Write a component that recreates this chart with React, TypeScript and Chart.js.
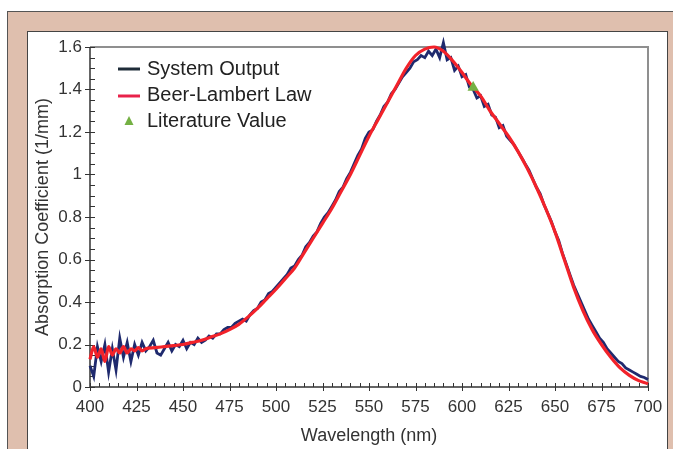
import { useEffect, useRef } from 'react';
import { Chart, registerables } from 'chart.js';

Chart.register(...registerables);

// ---------- data ----------
const xTickLabels = [400, 425, 450, 475, 500, 525, 550, 575, 600, 625, 650, 675, 700];
const yTickLabels = [0, 0.2, 0.4, 0.6, 0.8, 1, 1.2, 1.4, 1.6];

const systemStart = 400;
const systemStep = 2;
const systemValues = [
  0.10, 0.05, 0.19, 0.12, 0.20, 0.07, 0.18, 0.08, 0.23, 0.14, 0.21,
  0.12, 0.20, 0.15, 0.21, 0.17, 0.19, 0.22, 0.16, 0.15, 0.18,
  0.21, 0.17, 0.20, 0.19, 0.22, 0.18, 0.21, 0.20, 0.23, 0.21,
  0.22, 0.24, 0.23, 0.25, 0.25, 0.27, 0.28, 0.28, 0.30, 0.31,
  0.32, 0.31, 0.34, 0.36, 0.37, 0.40, 0.41, 0.44, 0.45, 0.47,
  0.49, 0.51, 0.53, 0.56, 0.57, 0.60, 0.62, 0.66, 0.68, 0.71,
  0.73, 0.77, 0.80, 0.82, 0.85, 0.88, 0.92, 0.94, 0.98, 1.01,
  1.05, 1.09, 1.12, 1.17, 1.20, 1.21, 1.25, 1.28, 1.32, 1.34,
  1.38, 1.40, 1.43, 1.46, 1.48, 1.50, 1.53, 1.54, 1.56, 1.55,
  1.58, 1.56, 1.59, 1.55, 1.62, 1.54, 1.55, 1.49, 1.51, 1.46,
  1.47, 1.41, 1.40, 1.36, 1.37, 1.32, 1.33, 1.28, 1.27, 1.22,
  1.23, 1.18, 1.16, 1.14, 1.11, 1.08, 1.05, 1.02, 0.98, 0.94,
  0.91, 0.86, 0.82, 0.78, 0.73, 0.69, 0.63, 0.58, 0.53, 0.48,
  0.44, 0.40, 0.36, 0.32, 0.29, 0.26, 0.23, 0.21, 0.18, 0.16,
  0.14, 0.12, 0.11, 0.09, 0.08, 0.07, 0.06, 0.05, 0.045, 0.035,
  0.025,
];

const beerWavelengths = [
  400, 402, 404, 406, 408, 410, 412, 414, 416, 418, 420, 422, 424, 426, 428, 430,
  435, 440, 445, 450, 455, 460, 465, 470, 475, 480, 485, 490, 495, 500,
  505, 510, 515, 520, 525, 530, 535, 540, 545, 550, 555, 560, 565, 570,
  575, 580, 585, 590, 595, 600, 605, 610, 615, 620, 625, 630, 635, 640,
  645, 650, 655, 660, 665, 670, 675, 680, 685, 690, 695, 700, 702,
];
const beerValues = [
  0.13, 0.19, 0.14, 0.18, 0.12, 0.19, 0.15, 0.18, 0.16, 0.19, 0.16, 0.18, 0.17, 0.185, 0.17, 0.18,
  0.185, 0.19, 0.195, 0.20, 0.21, 0.22, 0.235, 0.25, 0.27, 0.295, 0.33, 0.37, 0.415, 0.46,
  0.51, 0.56, 0.63, 0.70, 0.77, 0.84, 0.92, 1.00, 1.09, 1.18, 1.26, 1.34, 1.42, 1.50,
  1.56, 1.59, 1.60, 1.58, 1.535, 1.48, 1.42, 1.37, 1.30, 1.24, 1.18, 1.11, 1.03, 0.94,
  0.84, 0.73, 0.60, 0.47, 0.36, 0.27, 0.20, 0.14, 0.09, 0.055, 0.03, 0.015, 0.005,
];

const literatureWavelengths = [606];
const literatureValues = [1.41];

const seriesNames = ['System Output', 'Beer-Lambert Law', 'Literature Value'];

// ---------- styles ----------
const FONT = '"Liberation Sans", Arial, Helvetica, sans-serif';
const NAVY = '#1f2a6e';
const RED = '#f2222a';
const GREEN = '#74b043';
const TEXT = '#333333';

const framePlugin = {
  id: 'frameTicks',
  beforeDatasetsDraw(chart: any) {
    const { ctx, chartArea } = chart;
    const { left, right, top, bottom } = chartArea;
    const xs = chart.scales.x;
    const ys = chart.scales.y;
    ctx.save();
    ctx.strokeStyle = '#8f8f8f';
    ctx.lineWidth = 2;
    ctx.beginPath();
    ctx.moveTo(left, top);
    ctx.lineTo(right, top);
    ctx.lineTo(right, bottom);
    ctx.stroke();
    ctx.strokeStyle = '#333';
    ctx.lineWidth = 1.5;
    ctx.beginPath();
    ctx.moveTo(left, top);
    ctx.lineTo(left, bottom);
    ctx.lineTo(right, bottom);
    ctx.stroke();
    ctx.lineWidth = 1;
    ctx.beginPath();
    for (let v = xs.min; v <= xs.max + 0.001; v += 5) {
      const px = Math.round(xs.getPixelForValue(v)) + 0.5;
      const major = xTickLabels.some((t) => Math.abs(t - v) < 0.01);
      ctx.moveTo(px, bottom - 4);
      ctx.lineTo(px, major ? bottom + 4 : bottom);
    }
    for (let v = ys.min; v <= ys.max + 0.0001; v += 0.05) {
      const py = Math.round(ys.getPixelForValue(v)) + 0.5;
      const major = yTickLabels.some((t) => Math.abs(t - v) < 0.001);
      ctx.moveTo(major ? left - 5 : left, py);
      ctx.lineTo(left + 5, py);
    }
    ctx.stroke();
    ctx.restore();
  },
  afterDraw(chart: any) {
    const { ctx, chartArea } = chart;
    const { left, top } = chartArea;
    ctx.save();
    ctx.font = `20px ${FONT}`;
    ctx.textBaseline = 'middle';
    ctx.textAlign = 'left';
    const rows = [top + 22, top + 48, top + 74];
    ctx.lineWidth = 3;
    ctx.strokeStyle = '#1e2c38';
    ctx.beginPath();
    ctx.moveTo(left + 28, rows[0]);
    ctx.lineTo(left + 50, rows[0]);
    ctx.stroke();
    ctx.strokeStyle = '#e8224a';
    ctx.beginPath();
    ctx.moveTo(left + 28, rows[1] + 1);
    ctx.lineTo(left + 50, rows[1] + 1);
    ctx.stroke();
    ctx.fillStyle = GREEN;
    ctx.beginPath();
    ctx.moveTo(left + 39, rows[2] - 5);
    ctx.lineTo(left + 43.5, rows[2] + 4);
    ctx.lineTo(left + 34.5, rows[2] + 4);
    ctx.closePath();
    ctx.fill();
    ctx.fillStyle = '#222';
    seriesNames.forEach((n, i) => ctx.fillText(n, left + 57, rows[i]));
    ctx.restore();
  },
};

export default function App() {
  const ref = useRef<HTMLCanvasElement | null>(null);

  useEffect(() => {
    if (!ref.current) return;
    const systemData = systemValues.map((v, i) => ({ x: systemStart + i * systemStep, y: v }));
    const beerData = beerWavelengths.map((w, i) => ({ x: w, y: beerValues[i] }));
    const litData = literatureWavelengths.map((w, i) => ({ x: w, y: literatureValues[i] }));

    const chart = new Chart(ref.current, {
      type: 'line',
      data: {
        datasets: [
          {
            label: seriesNames[0],
            data: systemData,
            borderColor: NAVY,
            borderWidth: 2.8,
            pointRadius: 0,
            tension: 0,
            order: 3,
            clip: false,
          },
          {
            label: seriesNames[1],
            data: beerData,
            borderColor: RED,
            borderWidth: 3.2,
            pointRadius: 0,
            cubicInterpolationMode: 'monotone',
            order: 2,
            clip: false,
          },
          {
            label: seriesNames[2],
            data: litData,
            showLine: false,
            pointStyle: 'triangle',
            pointRadius: 6.5,
            backgroundColor: GREEN,
            borderColor: GREEN,
            borderWidth: 0,
            order: 1,
            clip: false,
          },
        ],
      } as any,
      options: {
        responsive: false,
        devicePixelRatio: 1,
        animation: false,
        layout: { padding: { left: 0, top: 47, right: 25, bottom: 0 } },
        plugins: { legend: { display: false }, tooltip: { enabled: false } },
        scales: {
          x: {
            type: 'linear',
            min: 400,
            max: 700,
            afterBuildTicks: (s: any) => {
              s.ticks = xTickLabels.map((v) => ({ value: v }));
            },
            afterFit: (s: any) => {
              s.height = 62;
            },
            ticks: {
              font: { family: FONT, size: 17 },
              color: TEXT,
              padding: 10,
              autoSkip: false,
              maxRotation: 0,
              callback: (v: any) => String(v),
            },
            grid: { display: false, drawTicks: false },
            border: { display: false },
            title: {
              display: true,
              text: 'Wavelength (nm)',
              font: { family: FONT, size: 18 },
              color: TEXT,
              padding: { top: 0, bottom: 2 },
            },
          },
          y: {
            type: 'linear',
            min: 0,
            max: 1.6,
            afterBuildTicks: (s: any) => {
              s.ticks = yTickLabels.map((v) => ({ value: v }));
            },
            afterFit: (s: any) => {
              s.width = 90;
            },
            ticks: {
              font: { family: FONT, size: 17 },
              color: TEXT,
              padding: 8,
              autoSkip: false,
              callback: (v: any) => String(v),
            },
            grid: { display: false, drawTicks: false },
            border: { display: false },
            title: {
              display: true,
              text: 'Absorption Coefficient (1/mm)',
              font: { family: FONT, size: 18 },
              color: TEXT,
              padding: { top: 32, bottom: 0 },
            },
          },
        },
      } as any,
      plugins: [framePlugin],
    });
    return () => chart.destroy();
  }, []);

  return (
    <div style={{ position: 'fixed', left: 0, top: 0, width: 673, height: 449, overflow: 'hidden', background: '#ffffff' }}>
      <div
        style={{
          position: 'absolute',
          left: 7,
          top: 11,
          width: 700,
          height: 480,
          background: '#dfbfae',
          border: '1px solid #555',
        }}
      />
      <div
        style={{
          position: 'absolute',
          left: 27,
          top: 31,
          width: 641,
          height: 460,
          boxSizing: 'border-box',
          background: '#ffffff',
          border: '1.5px solid #444',
        }}
      />
      <canvas ref={ref} width={673} height={449} style={{ position: 'absolute', left: 0, top: 0 }} />
    </div>
  );
}
